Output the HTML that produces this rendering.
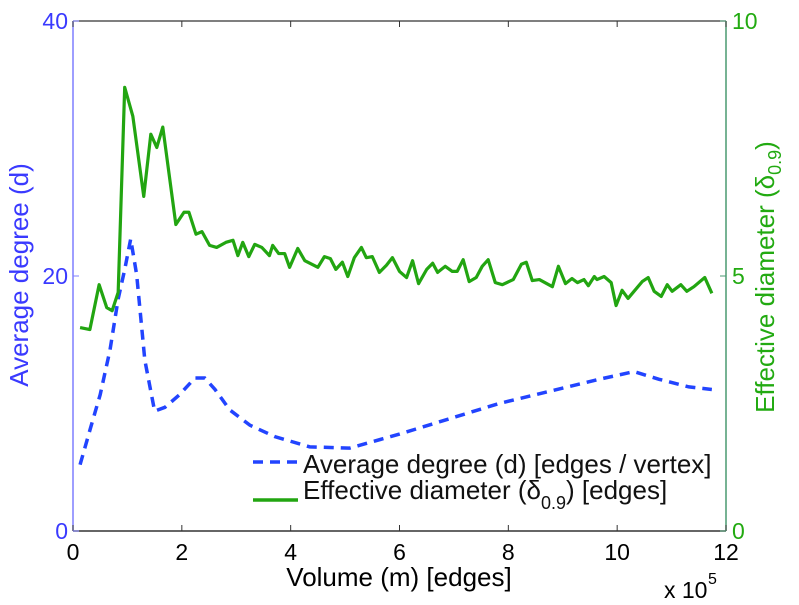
<!DOCTYPE html>
<html><head><meta charset="utf-8"><style>
body{margin:0;background:#fff;}
svg text{font-family:"Liberation Sans",sans-serif;}
</style></head><body>
<svg id="chart" width="799" height="600" xmlns="http://www.w3.org/2000/svg"></svg>
<script>
const xTicks=[0,2,4,6,8,10,12];
const leftTicks=[0,20,40];
const rightTicks=[0,5,10];
const degX=[0.13,0.31,0.5,0.68,0.83,0.95,1.06,1.17,1.32,1.5,1.69,1.96,2.24,2.42,2.61,2.88,3.25,3.71,4.35,5.08,6.0,7.83,9.67,10.31,10.77,11.32,11.74];
const degY=[5.2,7.9,10.7,14.2,18.2,20.5,22.9,20.1,13.4,9.4,9.7,10.7,12.0,12.0,11.1,9.5,8.3,7.4,6.6,6.5,7.6,10.0,11.9,12.5,11.9,11.3,11.1];
const diaX=[0.13,0.31,0.48,0.62,0.72,0.83,0.95,1.10,1.30,1.43,1.54,1.65,1.89,2.04,2.13,2.26,2.37,2.51,2.64,2.81,2.94,3.03,3.12,3.23,3.34,3.47,3.61,3.67,3.78,3.89,3.98,4.13,4.26,4.50,4.62,4.73,4.83,4.95,5.05,5.17,5.30,5.39,5.50,5.63,5.76,5.87,6.00,6.13,6.24,6.35,6.50,6.61,6.70,6.84,6.97,7.06,7.17,7.28,7.41,7.52,7.63,7.76,7.89,8.09,8.24,8.33,8.44,8.57,8.81,8.92,9.05,9.17,9.27,9.39,9.47,9.58,9.63,9.76,9.89,9.98,10.09,10.20,10.31,10.46,10.57,10.68,10.81,10.92,11.01,11.17,11.28,11.41,11.61,11.74];
const diaY=[3.99,3.95,4.83,4.38,4.32,4.68,8.70,8.13,6.56,7.78,7.52,7.92,6.01,6.25,6.25,5.82,5.87,5.60,5.56,5.66,5.70,5.40,5.66,5.38,5.62,5.56,5.40,5.60,5.44,5.44,5.17,5.54,5.30,5.17,5.38,5.34,5.13,5.27,4.99,5.36,5.56,5.36,5.38,5.07,5.21,5.36,5.09,4.97,5.30,4.85,5.13,5.25,5.07,5.19,5.09,5.09,5.32,4.89,4.97,5.19,5.32,4.87,4.83,4.93,5.23,5.27,4.91,4.93,4.79,5.19,4.85,4.95,4.87,4.93,4.81,4.99,4.93,4.99,4.87,4.42,4.72,4.56,4.70,4.89,4.97,4.70,4.60,4.83,4.70,4.83,4.70,4.79,4.97,4.66];

const L=73,R=726,T=21,B=531;
const sx=v=>L+(R-L)*v/12;
const syL=v=>B-(B-T)*v/40;
const syR=v=>B-(B-T)*v/10;
const svg=document.getElementById('chart');
const NS='http://www.w3.org/2000/svg';
function mk(tag,attrs,txt){const e=document.createElementNS(NS,tag);for(const k in attrs)e.setAttribute(k,attrs[k]);if(txt!==undefined)e.textContent=txt;svg.appendChild(e);return e;}

let e;
e=mk('line',{x1:L,y1:B,x2:R,y2:B,stroke:'#333','stroke-width':1.5});


e=mk('line',{x1:L,y1:T,x2:R,y2:T,stroke:'#333','stroke-width':1.2});


e=mk('line',{x1:L,y1:T,x2:L,y2:B,stroke:'#7f7fff','stroke-width':1.5});


e=mk('line',{x1:R,y1:T,x2:R,y2:B,stroke:'#4a9a70','stroke-width':1.5});



xTicks.forEach(t=>{
  e=mk('line',{x1:sx(t),y1:B,x2:sx(t),y2:B-6,stroke:'#333'});
  
  
  e=mk('line',{x1:sx(t),y1:T,x2:sx(t),y2:T+6,stroke:'#333'});
  
  
  e=mk('text',{x:sx(t),y:B+29,'text-anchor':'middle','font-size':23,fill:'#000'},t);
  
  
});
leftTicks.forEach(t=>{
  e=mk('line',{x1:L,y1:syL(t),x2:L+6,y2:syL(t),stroke:'#7f7fff'});
  
  
  e=mk('text',{x:L-5,y:syL(t)+8,'text-anchor':'end','font-size':23,fill:'#3a3aff'},t);
  
  
});
rightTicks.forEach(t=>{
  e=mk('line',{x1:R,y1:syR(t),x2:R-6,y2:syR(t),stroke:'#4a9a70'});
  
  
  e=mk('text',{x:R+6,y:syR(t)+8,'text-anchor':'start','font-size':23,fill:'#22aa11'},t);
  
  
});

e=mk('polyline',{points:degX.map((x,i)=>sx(x)+','+syL(degY[i])).join(' '),fill:'none',stroke:'#2244ff','stroke-width':3.5,'stroke-dasharray':'10,7'});


e=mk('polyline',{points:diaX.map((x,i)=>sx(x)+','+syR(diaY[i])).join(' '),fill:'none',stroke:'#22a511','stroke-width':3.2,'stroke-linejoin':'round'});



e=mk('text',{x:399,y:586,'text-anchor':'middle','font-size':26,fill:'#000'},'Volume (m) [edges]');


e=mk('text',{x:664,y:598,'font-size':23,fill:'#000'},'x 10');


e=mk('text',{x:708,y:584,'font-size':16,fill:'#000'},'5');


e=mk('text',{x:0,y:0,'text-anchor':'middle','font-size':26,fill:'#3a3aff',transform:'translate(28,275) rotate(-90)'},'Average degree (d)');


e=mk('text',{x:0,y:0,'text-anchor':'middle','font-size':26,fill:'#22aa11',transform:'translate(774,277) rotate(-90)'});
e.innerHTML='Effective diameter (δ<tspan font-size="18" dy="7">0.9</tspan><tspan dy="-7">)</tspan>';



e=mk('line',{x1:253,y1:462,x2:298,y2:462,stroke:'#2244ff','stroke-width':3.5,'stroke-dasharray':'10,7'});


e=mk('text',{x:303,y:473,'font-size':26,fill:'#111'},'Average degree (d) [edges / vertex]');


e=mk('line',{x1:253,y1:500,x2:298,y2:500,stroke:'#22a511','stroke-width':3.5});


e=mk('text',{x:303,y:499,'font-size':26,fill:'#111'});
e.innerHTML='Effective diameter (δ<tspan font-size="18" dy="10">0.9</tspan><tspan dy="-10">) [edges]</tspan>';


</script>
</body></html>
